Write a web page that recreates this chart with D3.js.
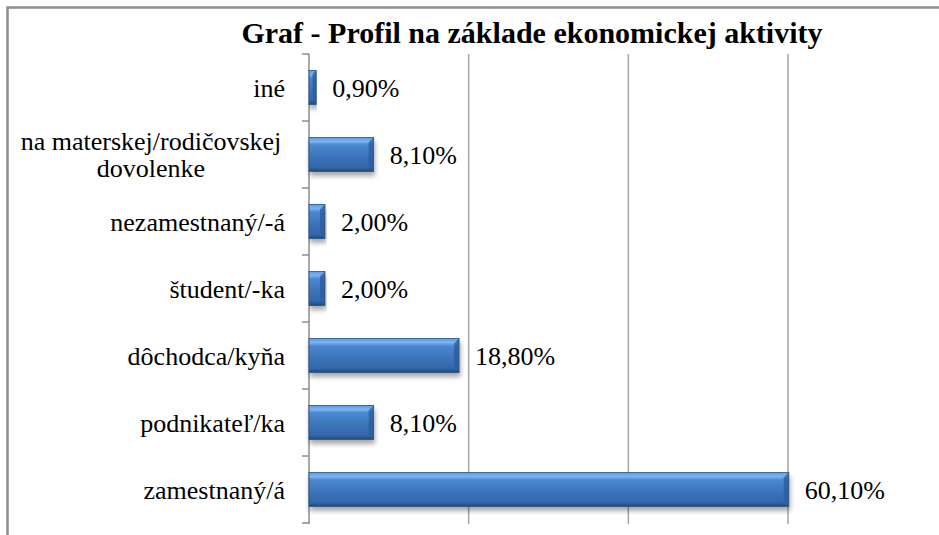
<!DOCTYPE html>
<html>
<head>
<meta charset="utf-8">
<script src="https://cdn.jsdelivr.net/npm/d3@7"></script>
<style>
body { margin:0; background:#fff; }
</style>
</head>
<body>
<div id="chart"></div>
<script>
// data, top to bottom
var categories = ['iné', 'na materskej/rodičovskej|dovolenke', 'nezamestnaný/-á', 'študent/-ka', 'dôchodca/kyňa', 'podnikateľ/ka', 'zamestnaný/á']
var values = [0.9, 8.1, 2.0, 2.0, 18.8, 8.1, 60.1]
var gridTicks = [20, 40, 60]
var title = 'Graf - Profil na základe ekonomickej aktivity'

var FONT = "'Liberation Serif'"
var W = 939, H = 535
var svg = d3.select('#chart').append('svg').attr('width', W).attr('height', H)

var defs = svg.append('defs')
var grad = defs.append('linearGradient').attr('id', 'barGrad').attr('x1', 0).attr('x2', 0).attr('y1', 0).attr('y2', 1)
grad.append('stop').attr('offset', '0%').attr('stop-color', '#5d9be0')
grad.append('stop').attr('offset', '12%').attr('stop-color', '#7cb4f0')
grad.append('stop').attr('offset', '22%').attr('stop-color', '#4a88d0')
grad.append('stop').attr('offset', '60%').attr('stop-color', '#3b72b8')
grad.append('stop').attr('offset', '88%').attr('stop-color', '#3366a8')
grad.append('stop').attr('offset', '100%').attr('stop-color', '#1f4677')
var shadow = defs.append('filter').attr('id', 'shadow').attr('x', '-5%').attr('y', '-20%').attr('width', '115%').attr('height', '160%')
shadow.append('feGaussianBlur').attr('in', 'SourceAlpha').attr('stdDeviation', 2.5)
shadow.append('feOffset').attr('dx', 1).attr('dy', 4).attr('result', 'off')
shadow.append('feComponentTransfer').append('feFuncA').attr('type', 'linear').attr('slope', 0.35)
var merge = shadow.append('feMerge')
merge.append('feMergeNode')
merge.append('feMergeNode').attr('in', 'SourceGraphic')

// chart frame (cropped on right and bottom)
svg.append('path').attr('d', 'M7.5,' + (H + 5) + 'V7.5H' + (W + 5))
	.attr('fill', 'none').attr('stroke', '#8c8c8c').attr('stroke-width', 2.5)

svg.append('text').attr('x', 532).attr('y', 43).attr('text-anchor', 'middle')
	.style('font-family', FONT).style('font-size', '30px').style('font-weight', 'bold').text(title)

var x = d3.scaleLinear().domain([0, 60]).range([309, 788])
var y = d3.scaleBand().domain(categories).range([54, 523]).paddingInner(0.49).paddingOuter(0.245)
var yb = d3.scaleBand().domain(categories).range([54, 523])

// gridlines
svg.append('g').selectAll('line').data(gridTicks).join('line')
	.attr('x1', d => x(d)).attr('x2', d => x(d)).attr('y1', 54).attr('y2', 524)
	.attr('stroke', '#a6a6a6').attr('stroke-width', 1.5)

// category axis
var axis = svg.append('g')
axis.append('line').attr('x1', 309).attr('x2', 309).attr('y1', 54).attr('y2', 524)
	.attr('stroke', '#8c8c8c').attr('stroke-width', 1.5)
var tickYs = categories.map(c => yb(c)).concat([523])
axis.selectAll('line.tick').data(tickYs).join('line').attr('class', 'tick')
	.attr('x1', 302).attr('x2', 309).attr('y1', d => d).attr('y2', d => d)
	.attr('stroke', '#8c8c8c').attr('stroke-width', 1.5)

// category labels
categories.forEach(function (c) {
	var lines = c.split('|')
	var cy = yb(c) + yb.bandwidth() / 2
	if (lines.length == 1) {
		svg.append('text').style('font-family', FONT).style('font-size', '26px')
			.attr('x', 285).attr('y', cy).attr('dy', '0.35em').attr('text-anchor', 'end').text(c)
	} else {
		lines.forEach(function (l, i) {
			svg.append('text').style('font-family', FONT).style('font-size', '26px')
				.attr('text-anchor', 'middle').attr('x', 151)
				.attr('y', cy + (i - (lines.length - 1) / 2) * 27).attr('dy', '0.35em').text(l)
		})
	}
})

// bars
var bars = svg.append('g').selectAll('g').data(categories).join('g').attr('filter', 'url(#shadow)')
bars.append('rect')
	.attr('x', x(0)).attr('y', c => y(c))
	.attr('width', (c, i) => x(values[i]) - x(0)).attr('height', y.bandwidth())
	.attr('fill', 'url(#barGrad)')
// bevel on right end
bars.append('path')
	.attr('d', function (c, i) {
		var x1 = x(values[i]), y0 = y(c), h = y.bandwidth(), b = Math.min(5, (x1 - x(0)) / 2)
		return 'M' + x1 + ',' + y0 + 'L' + (x1 - b) + ',' + (y0 + b) + 'L' + (x1 - b) + ',' + (y0 + h - b) + 'L' + x1 + ',' + (y0 + h) + 'Z'
	})
	.attr('fill', '#2c5d9c').attr('opacity', 0.8)
bars.append('rect')
	.attr('x', x(0)).attr('y', c => y(c))
	.attr('width', (c, i) => x(values[i]) - x(0)).attr('height', y.bandwidth())
	.attr('fill', 'none').attr('stroke', '#2a5488').attr('stroke-width', 0.8)

// value labels
svg.append('g').selectAll('text').data(categories).join('text')
	.attr('x', (c, i) => x(values[i]) + 16).attr('y', c => y(c) + y.bandwidth() / 2).attr('dy', '0.35em')
	.style('font-family', FONT).style('font-size', '26px')
	.text((c, i) => values[i].toFixed(2).replace('.', ',') + '%')
</script>
</body>
</html>
